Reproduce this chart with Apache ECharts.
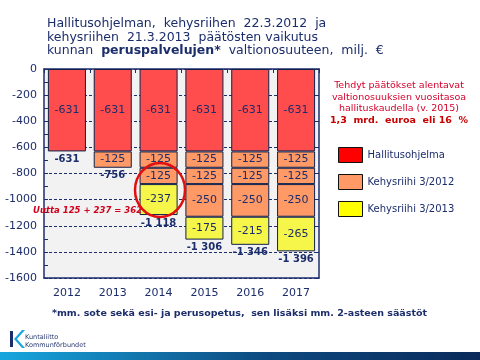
<!DOCTYPE html>
<html>
<head>
<meta charset="utf-8">
<script src="https://cdn.jsdelivr.net/npm/echarts@6/dist/echarts.min.js"></script>
<style>html,body{margin:0;padding:0;background:#fff}#c{width:480px;height:360px}</style>
</head>
<body>
<div id="c"></div>
<script>
var years = ['2012', '2013', '2014', '2015', '2016', '2017'];
var hallitusohjelma = [-631, -631, -631, -631, -631, -631];
var kehys2012a = [null, -125, -125, -125, -125, -125];
var kehys2012b = [null, null, -125, -125, -125, -125];
var kehys2012c = [null, null, null, -250, -250, -250];
var kehys2013 = [null, null, -237, -175, -215, -265];
var totals = [-631, -756, -1118, -1306, -1346, -1396];
var yTicks = [0, -200, -400, -600, -800, -1000, -1200, -1400, -1600];

var NAVY = '#1c2d6b';
var FONT = 'DejaVu Sans, Verdana, sans-serif';

function fmtThousands(v) {
  var s = String(Math.abs(v));
  var out = s.replace(/\B(?=(\d{3})+(?!\d))/g, ' ');
  return (v < 0 ? '-' : '') + out;
}

var barLabel = {
  show: true, position: 'inside', color: NAVY, fontSize: 11, fontFamily: FONT,
  formatter: function (p) { return String(p.value); }
};

function barSeries(name, data, color) {
  return {
    name: name, type: 'bar', stack: 'total', data: data, barWidth: '83%',
    itemStyle: { color: color, borderColor: '#10204a', borderWidth: 1, borderRadius: 0 },
    label: barLabel, z: 3
  };
}

var chart = echarts.init(document.getElementById('c'), null, { renderer: 'canvas' });
chart.setOption({
  animation: false,
  backgroundColor: '#ffffff',
  textStyle: { fontFamily: FONT },
  grid: { left: 44, right: 161, top: 69, bottom: 82, show: true, backgroundColor: '#f2f2f2', borderWidth: 0 },
  title: {
    left: 42, top: 12,
    text: 'Hallitusohjelman,  kehysriihen  22.3.2012  ja\nkehysriihen  21.3.2013  päätösten vaikutus\nkunnan  {b|peruspalvelujen*}  valtionosuuteen,  milj.  €',
    textStyle: {
      color: NAVY, fontSize: 12.5, fontWeight: 'normal', fontFamily: FONT, lineHeight: 13.5,
      rich: { b: { fontWeight: 'bold', fontSize: 12.5, color: NAVY, fontFamily: FONT, lineHeight: 13.5 } }
    }
  },
  legend: {
    orient: 'vertical', left: 338, top: 147, itemWidth: 24, itemHeight: 15, itemGap: 11, padding: 0,
    icon: 'rect', selectedMode: false,
    textStyle: { color: NAVY, fontSize: 10, fontFamily: FONT },
    data: [
      { name: 'Hallitusohjelma', itemStyle: { color: '#ff0000', borderColor: '#111', borderWidth: 1 } },
      { name: 'Kehysriihi 3/2012', itemStyle: { color: '#ff9966', borderColor: '#111', borderWidth: 1 } },
      { name: 'Kehysriihi 3/2013', itemStyle: { color: '#ffff00', borderColor: '#111', borderWidth: 1 } }
    ]
  },
  xAxis: [
    {
      type: 'category', data: years, position: 'bottom',
      axisLine: { show: true, onZero: false, lineStyle: { color: NAVY, width: 1.5 } },
      axisTick: { show: false },
      axisLabel: { color: NAVY, fontSize: 11, fontFamily: FONT, margin: 10 }
    },
    {
      type: 'category', data: years, position: 'top',
      axisLine: { show: true, onZero: false, lineStyle: { color: NAVY, width: 1.5 } },
      axisTick: { show: true, inside: true, length: 4, lineStyle: { color: NAVY } },
      axisLabel: { show: false }
    }
  ],
  yAxis: [
    {
      type: 'value', min: -1600, max: 0, interval: 200, position: 'left',
      axisLine: { show: true, lineStyle: { color: NAVY, width: 1.5 } },
      axisTick: { show: false },
      splitLine: { show: true, lineStyle: { color: NAVY, type: [3, 2], width: 1 } },
      axisLabel: { color: NAVY, fontSize: 11, fontFamily: FONT, margin: 7,
        formatter: function (v) { return String(v); } }
    },
    {
      type: 'value', min: -1600, max: 0, interval: 200, position: 'right',
      axisLine: { show: true, lineStyle: { color: NAVY, width: 1.5 } },
      axisTick: { show: true, inside: true, length: 4, lineStyle: { color: NAVY } },
      splitLine: { show: false },
      axisLabel: { show: false }
    },
    {
      type: 'value', min: -1600, max: 0, interval: 100, position: 'left',
      axisLine: { show: false },
      axisTick: { show: true, inside: true, length: 4, lineStyle: { color: NAVY } },
      splitLine: { show: false },
      axisLabel: { show: false }
    }
  ],
  series: [
    barSeries('Hallitusohjelma', hallitusohjelma, '#ff4c4c'),
    barSeries('Kehysriihi 3/2012', kehys2012a, '#ff9966'),
    barSeries('Kehysriihi 3/2012', kehys2012b, '#ff9966'),
    barSeries('Kehysriihi 3/2012', kehys2012c, '#ff9966'),
    barSeries('Kehysriihi 3/2013', kehys2013, '#f6f64a'),
    {
      name: 'Yhteensä', type: 'scatter', data: totals, symbolSize: 0, z: 5,
      itemStyle: { opacity: 1 },
      label: {
        show: true, position: 'bottom', distance: 3, color: NAVY, opacity: 1, fontSize: 10, fontWeight: 'bold', fontFamily: FONT,
        formatter: function (p) { return fmtThousands(p.value); }
      }
    }
  ],
  graphic: [
    {
      type: 'text', x: 399, y: 80, z: 10,
      style: {
        text: 'Tehdyt päätökset alentavat\nvaltionosuuksien vuositasoa\nhallituskaudella (v. 2015)\n{b|1,3  mrd.  euroa  eli 16  %}',
        align: 'center', fill: '#d4002a', font: '9.5px ' + FONT, lineHeight: 11.5,
        rich: { b: { fontWeight: 'bold', fill: '#c80000', fontSize: 9.5, fontFamily: FONT, lineHeight: 11.5 } }
      }
    },
    {
      type: 'text', x: 33, y: 206, z: 10,
      style: { text: 'Uutta 125 + 237 = 362', fill: '#d0001c', font: 'italic bold 8.5px ' + FONT }
    },
    {
      type: 'ellipse', z: 10,
      shape: { cx: 160, cy: 190, rx: 25, ry: 27 },
      style: { fill: 'none', stroke: '#e01010', lineWidth: 2.5 }
    },
    {
      type: 'text', x: 52, y: 309, z: 10,
      style: { text: '*mm. sote sekä esi- ja perusopetus,  sen lisäksi mm. 2-asteen säästöt',
        fill: NAVY, font: 'bold 9.5px ' + FONT }
    },
    {
      type: 'polygon', z: 10,
      shape: { points: [[10, 331], [13, 331], [13, 347], [10, 347]] },
      style: { fill: '#1c2d6b' }
    },
    {
      type: 'polygon', z: 10,
      shape: { points: [[14, 339], [22, 330], [25, 330], [17, 339], [25, 348], [22, 348]] },
      style: { fill: '#1aa7e0' }
    },
    {
      type: 'text', x: 25, y: 333, z: 10,
      style: { text: 'Kuntaliitto\nKommunförbundet', fill: '#2a3a70', font: '6.5px ' + FONT, lineHeight: 8 }
    },
    {
      type: 'rect', z: 10,
      shape: { x: 0, y: 352, width: 480, height: 8 },
      style: {
        fill: new echarts.graphic.LinearGradient(0, 0, 1, 0, [
          { offset: 0, color: '#17a6de' },
          { offset: 0.55, color: '#0d4a80' },
          { offset: 1, color: '#0a2a5a' }
        ])
      }
    }
  ]
});
</script>
</body>
</html>
